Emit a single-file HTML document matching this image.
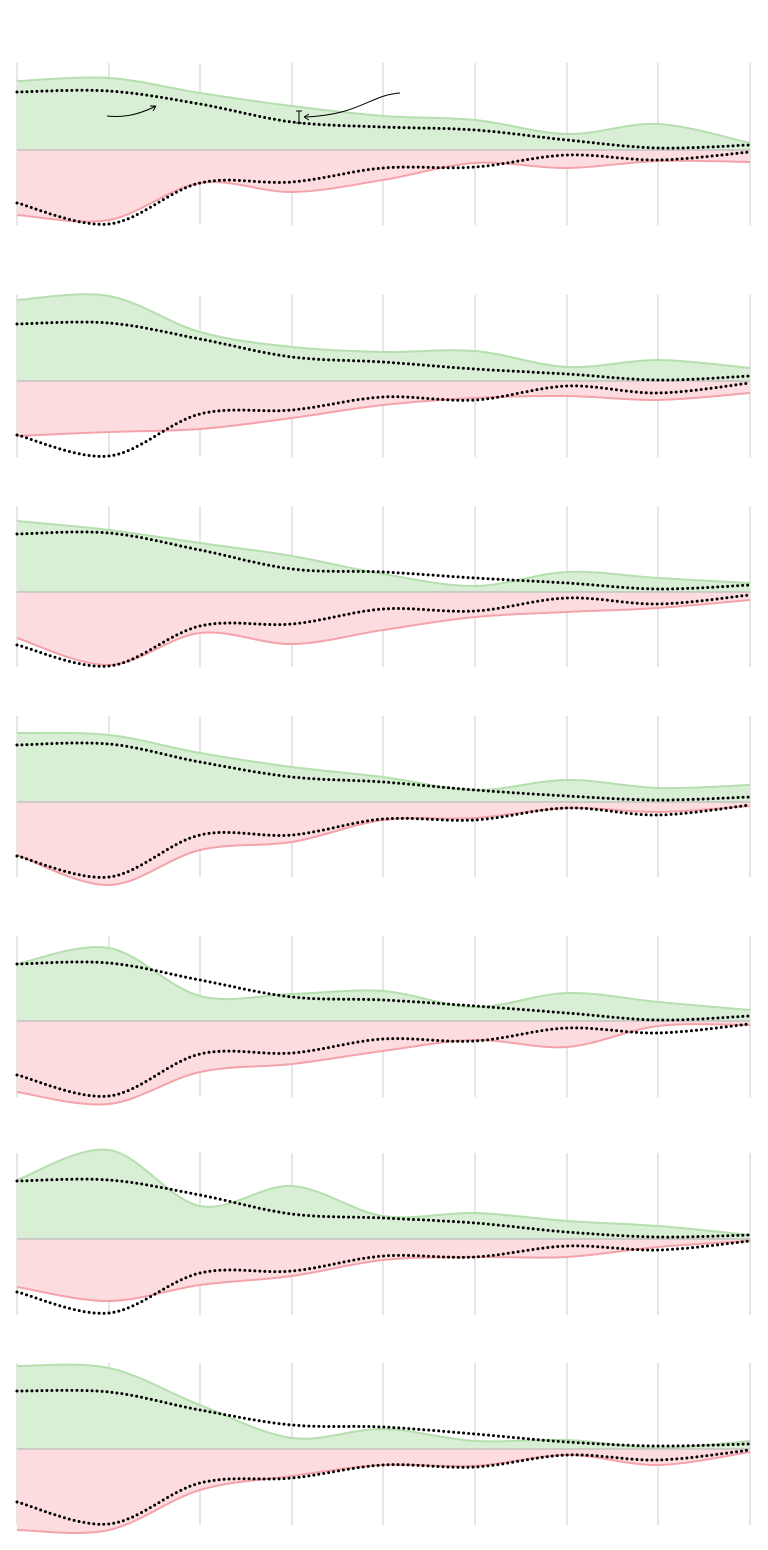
<!DOCTYPE html>
<html><head><meta charset="utf-8"><style>
html,body{margin:0;padding:0;background:#fff;}
svg{display:block;}
</style></head><body>
<svg id="s" width="768" height="1550" viewBox="0 0 768 1550" xmlns="http://www.w3.org/2000/svg"></svg>
<script>
const X=[17,109,200,292,383,475,567,658,750];
const P=[
{t:63,b:225,z:150,g:[81,78,93,106,116,120,134,124,143],r:[215,220,183,192,180,163,168,161,162],dt:[92,91,104,122,127,130,140,148,145],db:[203,224,183,182,168,167,155,160,152]},
{t:295,b:457,z:381,g:[300,296,332,347,352,351,367,360,368],r:[436,432,429,418,405,398,396,400,393],dt:[324,323,339,357,362,369,374,380,376],db:[435,456,414,410,397,400,386,393,383]},
{t:506,b:667,z:592,g:[521,530,543,556,574,586,572,578,583],r:[638,665,633,644,630,617,612,608,600],dt:[534,533,550,569,572,578,583,589,585],db:[645,666,626,624,609,611,598,604,595]},
{t:716,b:877,z:802,g:[733,735,753,767,777,790,780,788,785],r:[855,885,850,842,820,818,808,812,806],dt:[745,744,762,777,782,790,796,800,797],db:[856,877,835,835,819,820,808,815,805]},
{t:936,b:1097,z:1021,g:[964,948,996,994,991,1007,993,1002,1010],r:[1092,1104,1072,1064,1051,1040,1047,1026,1025],dt:[964,963,980,997,1000,1006,1013,1020,1016],db:[1075,1096,1054,1053,1039,1041,1028,1033,1024]},
{t:1153,b:1315,z:1239,g:[1180,1150,1206,1186,1216,1213,1221,1226,1235],r:[1287,1301,1285,1276,1260,1257,1257,1247,1241],dt:[1181,1180,1195,1214,1218,1223,1232,1237,1235],db:[1292,1313,1273,1271,1256,1257,1246,1250,1241]},
{t:1363,b:1525,z:1449,g:[1366,1368,1405,1438,1429,1441,1440,1448,1441],r:[1530,1530,1490,1476,1465,1466,1455,1465,1452],dt:[1391,1392,1410,1425,1427,1434,1442,1446,1444],db:[1502,1524,1483,1478,1465,1467,1455,1460,1450]}
];
function curve(Y){
  let d="M"+X[0]+","+Y[0];
  for(let i=0;i<X.length-1;i++){
    const x0=X[Math.max(0,i-1)],y0=Y[Math.max(0,i-1)];
    const x1=X[i],y1=Y[i],x2=X[i+1],y2=Y[i+1];
    const x3=X[Math.min(X.length-1,i+2)],y3=Y[Math.min(X.length-1,i+2)];
    const c1x=x1+(x2-x0)/6,c1y=y1+(y2-y0)/6,c2x=x2-(x3-x1)/6,c2y=y2-(y3-y1)/6;
    d+=` C${c1x.toFixed(1)},${c1y.toFixed(1)} ${c2x.toFixed(1)},${c2y.toFixed(1)} ${x2},${y2}`;
  }
  return d;
}
let h="";
for(const p of P){
  for(const x of X) h+=`<line x1="${x}" y1="${p.t}" x2="${x}" y2="${p.b}" stroke="#d6d6d6" stroke-width="1.2"/>`;
  const g=curve(p.g), r=curve(p.r);
  h+=`<path d="${g} L750,${p.z} L17,${p.z} Z" fill="#d9efd5"/>`;
  h+=`<path d="${r} L750,${p.z} L17,${p.z} Z" fill="#fddcdf"/>`;
  h+=`<path d="${g}" fill="none" stroke="#b5dfae" stroke-width="2"/>`;
  h+=`<path d="${r}" fill="none" stroke="#f4a3aa" stroke-width="2"/>`;
  h+=`<line x1="17" y1="${p.z}" x2="750" y2="${p.z}" stroke="#bbb" stroke-width="1.2"/>`;
  h+=`<path d="${curve(p.dt)}" fill="none" stroke="#000" stroke-width="3" stroke-linecap="round" stroke-dasharray="0 5"/>`;
  h+=`<path d="${curve(p.db)}" fill="none" stroke="#000" stroke-width="3" stroke-linecap="round" stroke-dasharray="0 5"/>`;
}
// annotations
h+=`<path d="M107,116 C125,118 140,114 156,106" fill="none" stroke="#000" stroke-width="1"/>`;
h+=`<path d="M156,106 l-6,0 M156,106 l-3,5" fill="none" stroke="#000" stroke-width="1"/>`;
h+=`<path d="M400,93 C370,95 360,115 305,117" fill="none" stroke="#000" stroke-width="1"/>`;
h+=`<path d="M304,117 l5,-3 M304,117 l5,3" fill="none" stroke="#000" stroke-width="1"/>`;
h+=`<path d="M299,111 L299,123 M296,111 L302,111 M296,123 L302,123" fill="none" stroke="#000" stroke-width="1"/>`;
document.getElementById("s").innerHTML=h;
</script>
</body></html>
